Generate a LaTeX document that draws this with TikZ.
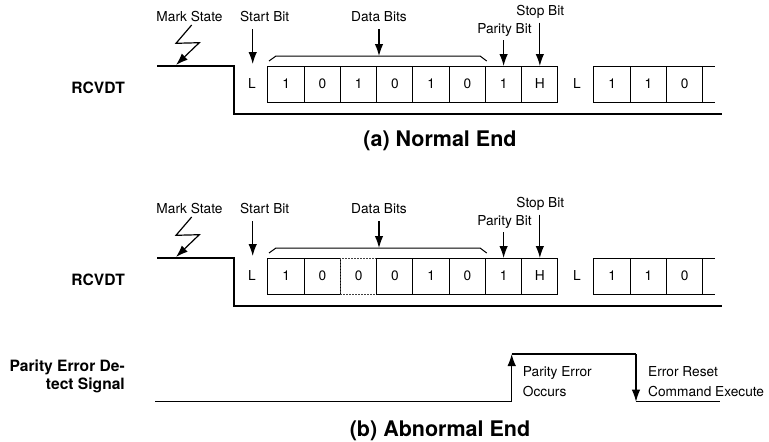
\documentclass[tikz,border=0pt]{standalone}
\usepackage{fontspec}
\setmainfont{TeX Gyre Heros}
\usetikzlibrary{arrows.meta, positioning}

\begin{document}
\begin{tikzpicture}[
        x=1pt, y=-1pt,
        font=\fontsize{13.7}{20.7}\selectfont, node distance=0pt,
        bit/.style={draw, line width=1pt, minimum width=36.25pt, minimum height=36pt, inner sep=0pt, outer sep=0pt},
        badbit/.style={bit, draw=black!75, dash pattern=on 2pt off 1pt},
        lbl/.style={inner sep=0pt, anchor=base},
        head/.style={inner sep=0pt, font=\bfseries\fontsize{15.6}{18}\selectfont},
        sig/.style={line width=1.2pt},
        arr/.style={-{Latex[length=12pt, width=8.5pt]}, line width=1.2pt},
        ttl/.style={inner sep=0pt, anchor=base, font=\bfseries\fontsize{21.5}{25}\selectfont}
    ]
    \useasboundingbox (0,0) rectangle (769,442);

    % (a) normal end
    \node[head, anchor=base east] (rcvA) at (125,93) {RCVDT};
    \coordinate (a0) at (157,66);
    \coordinate (a1) at (234,66);
    \coordinate (a2) at (234,114);
    \coordinate (a3) at (722,114);
    \draw[sig] (a0) -- (a1) -- (a2) -- (a3);

    \node (startA) at (252,84) {L};
    \node[bit] (dA1) at (286.1,84) {1};
    \node[bit, right=of dA1] (dA2) {0};
    \node[bit, right=of dA2] (dA3) {1};
    \node[bit, right=of dA3] (dA4) {0};
    \node[bit, right=of dA4] (dA5) {1};
    \node[bit, right=of dA5] (dA6) {0};
    \node[bit, right=of dA6] (parA) {1};
    \node[bit, right=of parA] (stopA) {H};
    \node (nextA) at (577,84) {L};
    \node[bit] (nA1) at (612.1,84) {1};
    \node[bit, right=of nA1] (nA2) {1};
    \node[bit, right=of nA2] (nA3) {0};
    \coordinate (openAt) at (715,66);
    \coordinate (openAb) at (715,102);
    \draw[line width=1pt] (nA3.north east) -- (openAt);
    \draw[line width=1pt] (nA3.south east) -- (openAb);

    \node[lbl] (msA) at (189.5,21) {Mark State};
    \node[lbl] (sblA) at (264.7,21) {Start Bit};
    \node[lbl] (dblA) at (379,21) {Data Bits};
    \node[lbl] (pblA) at (504.5,33.3) {Parity Bit};
    \node[lbl] (stlA) at (540.3,15) {Stop Bit};

    \coordinate (zA1) at (191.7,25);
    \coordinate (zA2) at (176,43.3);
    \coordinate (zA3) at (199.3,42.7);
    \coordinate (zA4) at (176,65);
    \draw[arr] (zA1) -- (zA2) -- (zA3) -- (zA4);

    \coordinate (brA1) at (269,61);
    \coordinate (brA2) at (276,56);
    \coordinate (brA3) at (480,56);
    \coordinate (brA4) at (486.7,61);
    \draw[line width=1pt] (brA1) -- (brA2) -- (brA3) -- (brA4);

    \coordinate (sbA) at (252.7,29.3);
    \coordinate (sbtA) at (252.7,64);
    \coordinate (dbA) at (379,29.3);
    \coordinate (dbtA) at (379,56);
    \draw[arr] (sbA) -- (sbtA);
    \draw[arr] (dbA) -- (dbtA);
    \draw[arr] (parA.north |- 0,40) -- (parA.north);
    \draw[arr] (stopA.north |- 0,22.7) -- (stopA.north);

    \node[ttl] (ttlA) at (440,146.7) {(a) Normal End};

    % (b) abnormal end
    \begin{scope}[yshift=-192pt]
    \node[head, anchor=base east] (rcvB) at (125,93) {RCVDT};
    \coordinate (b0) at (157,66);
    \coordinate (b1) at (234,66);
    \coordinate (b2) at (234,114);
    \coordinate (b3) at (722,114);
    \draw[sig] (b0) -- (b1) -- (b2) -- (b3);

    \node (startB) at (252,84) {L};
    \node[bit] (dB1) at (286.1,84) {1};
    \node[bit, right=of dB1] (dB2) {0};
    \node[badbit, right=of dB2] (dB3) {0};
    \node[bit, right=of dB3] (dB4) {0};
    \node[bit, right=of dB4] (dB5) {1};
    \node[bit, right=of dB5] (dB6) {0};
    \node[bit, right=of dB6] (parB) {1};
    \node[bit, right=of parB] (stopB) {H};
    \node (nextB) at (577,84) {L};
    \node[bit] (nB1) at (612.1,84) {1};
    \node[bit, right=of nB1] (nB2) {1};
    \node[bit, right=of nB2] (nB3) {0};
    \coordinate (openBt) at (715,66);
    \coordinate (openBb) at (715,102);
    \draw[line width=1pt] (nB3.north east) -- (openBt);
    \draw[line width=1pt] (nB3.south east) -- (openBb);

    \node[lbl] (msB) at (189.5,21) {Mark State};
    \node[lbl] (sblB) at (264.7,21) {Start Bit};
    \node[lbl] (dblB) at (379,21) {Data Bits};
    \node[lbl] (pblB) at (504.5,33.3) {Parity Bit};
    \node[lbl] (stlB) at (540.3,15) {Stop Bit};

    \coordinate (zB1) at (191.7,25);
    \coordinate (zB2) at (176,43.3);
    \coordinate (zB3) at (199.3,42.7);
    \coordinate (zB4) at (176,65);
    \draw[arr] (zB1) -- (zB2) -- (zB3) -- (zB4);

    \coordinate (brB1) at (269,61);
    \coordinate (brB2) at (276,56);
    \coordinate (brB3) at (480,56);
    \coordinate (brB4) at (486.7,61);
    \draw[line width=1pt] (brB1) -- (brB2) -- (brB3) -- (brB4);

    \coordinate (sbB) at (252.7,29.3);
    \coordinate (sbtB) at (252.7,64);
    \coordinate (dbB) at (379,29.3);
    \coordinate (dbtB) at (379,56);
    \draw[arr] (sbB) -- (sbtB);
    \draw[arr] (dbB) -- (dbtB);
    \draw[arr] (parB.north |- 0,40) -- (parB.north);
    \draw[arr] (stopB.north |- 0,22.7) -- (stopB.north);
    \end{scope}

    % parity error detect signal
    \node[head, anchor=base east, align=right] (pedB) at (125,389) {Parity Error De-\\tect Signal};
    \coordinate (p0) at (155,401.7);
    \coordinate (p1) at (511.7,401.7);
    \coordinate (p2) at (511.7,354);
    \coordinate (p3) at (636,354);
    \coordinate (p4) at (636,401.7);
    \coordinate (p5) at (720,401.7);
    \draw[sig] (p0) -- (p1);
    \draw[arr] (p1) -- (p2);
    \draw[sig] (p2) -- (p3);
    \draw[arr] (p3) -- (p4);
    \draw[sig] (p4) -- (p5);
    \node[lbl, anchor=base west, align=left] (occB) at (522.7,396.7) {Parity Error\\Occurs};
    \node[lbl, anchor=base west, align=left] (rstB) at (648,396.7) {Error Reset\\Command Execute};

    \node[ttl] (ttlB) at (440,436.7) {(b) Abnormal End};
\end{tikzpicture}
\end{document}
